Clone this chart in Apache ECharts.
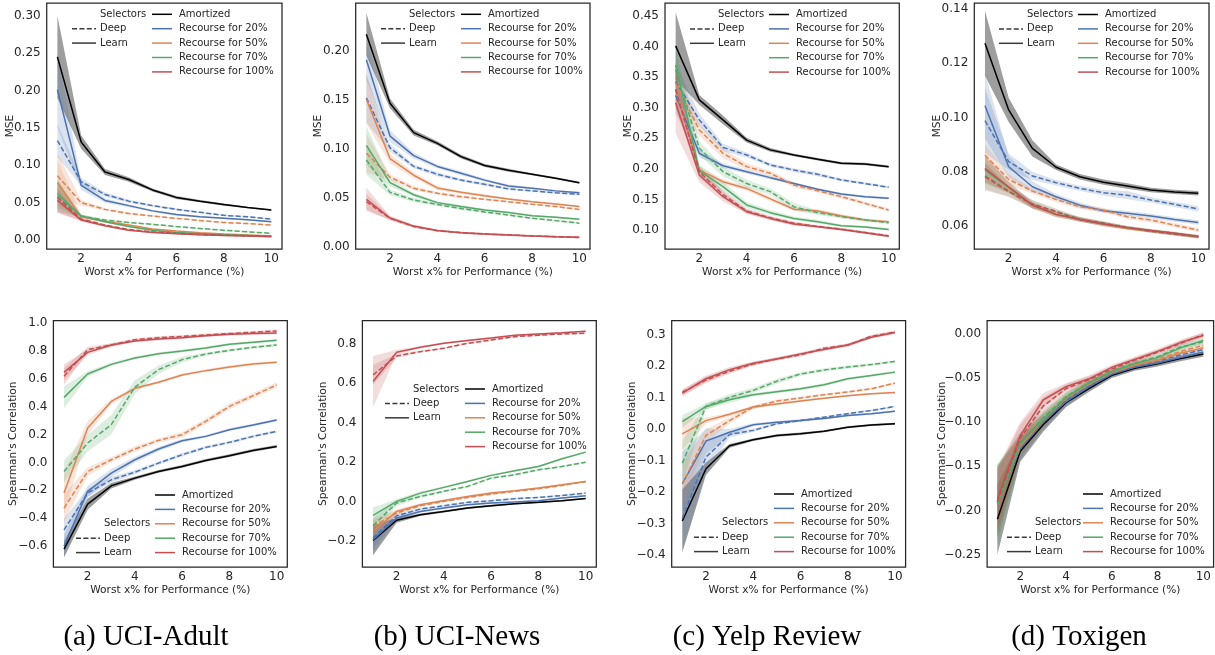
<!DOCTYPE html>
<html>
<head>
<meta charset="utf-8">
<script src="https://cdn.jsdelivr.net/npm/echarts@6/dist/echarts.min.js"></script>
<style>
  html, body { margin: 0; padding: 0; background: #fff; }
  #chart { width: 1215px; height: 655px; }
</style>
</head>
<body>
<div id="chart"></div>
<script>
// ---- data ----
const XS = [1, 2, 3, 4, 5, 6, 7, 8, 9, 10];
const X_TICKS = [2, 4, 6, 8, 10];
const HUES = ['Amortized', 'Recourse for 20%', 'Recourse for 50%', 'Recourse for 70%', 'Recourse for 100%'];
const SELECTORS = ['Selectors', 'Deep', 'Learn'];
const CAPTIONS = ['(a) UCI-Adult', '(b) UCI-News', '(c) Yelp Review', '(d) Toxigen'];

const MSE_TICKS_ADULT = [0, 0.05, 0.1, 0.15, 0.2, 0.25, 0.3];
const MSE_TICKS_NEWS = [0, 0.05, 0.1, 0.15, 0.2];
const MSE_TICKS_YELP = [0.1, 0.15, 0.2, 0.25, 0.3, 0.35, 0.4, 0.45];
const MSE_TICKS_TOX = [0.06, 0.08, 0.1, 0.12, 0.14];
const CORR_TICKS_ADULT = [-0.6, -0.4, -0.2, 0, 0.2, 0.4, 0.6, 0.8, 1.0];
const CORR_TICKS_NEWS = [-0.2, 0, 0.2, 0.4, 0.6, 0.8];
const CORR_TICKS_YELP = [-0.4, -0.3, -0.2, -0.1, 0, 0.1, 0.2, 0.3];
const CORR_TICKS_TOX = [-0.25, -0.2, -0.15, -0.1, -0.05, 0];

// rows of *_LEARN: Amortized, 20%, 50%, 70%, 100%; rows of *_DEEP: 20%, 50%, 70%, 100%
const ADULT_MSE_LEARN = [
  [0.245, 0.131, 0.091, 0.081, 0.067, 0.057, 0.052, 0.0475, 0.0435, 0.040],
  [0.201, 0.073, 0.053, 0.046, 0.039, 0.034, 0.031, 0.029, 0.027, 0.0245],
  [0.077, 0.031, 0.025, 0.020, 0.0147, 0.012, 0.0098, 0.008, 0.0067, 0.0055],
  [0.062, 0.032, 0.0245, 0.018, 0.013, 0.010, 0.0085, 0.007, 0.006, 0.005],
  [0.053, 0.0267, 0.019, 0.013, 0.010, 0.0085, 0.007, 0.006, 0.0053, 0.0044]
];
const ADULT_MSE_DEEP = [
  [0.133, 0.078, 0.061, 0.052, 0.046, 0.041, 0.037, 0.033, 0.031, 0.028],
  [0.086, 0.050, 0.041, 0.0355, 0.032, 0.029, 0.026, 0.0235, 0.022, 0.020],
  [0.058, 0.032, 0.0267, 0.0235, 0.021, 0.018, 0.0155, 0.013, 0.011, 0.009],
  [0.057, 0.028, 0.020, 0.014, 0.011, 0.009, 0.0075, 0.0065, 0.0058, 0.005]
];
const ADULT_MSE_LEARN_CI = [
  [0.055, 0.009, 0.004, 0.003, 0.002, 0.002, 0.0015, 0.0015, 0.001, 0.001],
  [0.05, 0.006, 0.003, 0.002, 0.0015, 0.0015, 0.001, 0.001, 0.001, 0.001],
  [0.03, 0.003, 0.002, 0.0015, 0.001, 0.001, 0.001, 0.001, 0.001, 0.001],
  [0.02, 0.002, 0.0015, 0.001, 0.001, 0.001, 0.001, 0.001, 0.001, 0.001],
  [0.017, 0.002, 0.0015, 0.001, 0.001, 0.001, 0.001, 0.001, 0.001, 0.001]
];
const ADULT_MSE_DEEP_CI = [
  [0.022, 0.005, 0.003, 0.002, 0.0015, 0.0015, 0.001, 0.001, 0.001, 0.001],
  [0.03, 0.004, 0.002, 0.0015, 0.001, 0.001, 0.001, 0.001, 0.001, 0.001],
  [0.02, 0.002, 0.0015, 0.001, 0.001, 0.001, 0.001, 0.001, 0.001, 0.001],
  [0.02, 0.002, 0.0015, 0.001, 0.001, 0.001, 0.001, 0.001, 0.001, 0.001]
];

const NEWS_MSE_LEARN = [
  [0.217, 0.1465, 0.1165, 0.1056, 0.092, 0.083, 0.078, 0.074, 0.070, 0.0654],
  [0.191, 0.113, 0.093, 0.082, 0.075, 0.068, 0.062, 0.0596, 0.057, 0.055],
  [0.1506, 0.090, 0.073, 0.060, 0.0555, 0.052, 0.0487, 0.046, 0.0436, 0.041],
  [0.1036, 0.0654, 0.053, 0.045, 0.041, 0.0375, 0.0348, 0.0317, 0.030, 0.028],
  [0.0484, 0.0293, 0.021, 0.0164, 0.0143, 0.013, 0.012, 0.011, 0.0102, 0.0095]
];
const NEWS_MSE_DEEP = [
  [0.152, 0.101, 0.082, 0.074, 0.068, 0.0637, 0.059, 0.057, 0.055, 0.0535],
  [0.0954, 0.071, 0.0596, 0.0545, 0.051, 0.0484, 0.046, 0.0433, 0.041, 0.038],
  [0.0886, 0.0555, 0.0477, 0.043, 0.039, 0.0354, 0.0324, 0.029, 0.0266, 0.024],
  [0.046, 0.029, 0.0205, 0.0163, 0.0143, 0.013, 0.012, 0.011, 0.0101, 0.0094]
];
const NEWS_MSE_LEARN_CI = [
  [0.022, 0.005, 0.003, 0.002, 0.002, 0.0015, 0.0015, 0.001, 0.001, 0.001],
  [0.02, 0.006, 0.003, 0.002, 0.002, 0.0015, 0.0015, 0.001, 0.001, 0.001],
  [0.025, 0.005, 0.003, 0.002, 0.0015, 0.0015, 0.001, 0.001, 0.001, 0.001],
  [0.02, 0.004, 0.002, 0.0015, 0.0015, 0.001, 0.001, 0.001, 0.001, 0.001],
  [0.012, 0.002, 0.0015, 0.001, 0.001, 0.001, 0.001, 0.001, 0.001, 0.001]
];
const NEWS_MSE_DEEP_CI = [
  [0.025, 0.004, 0.002, 0.002, 0.0015, 0.0015, 0.001, 0.001, 0.001, 0.001],
  [0.02, 0.003, 0.002, 0.0015, 0.0015, 0.001, 0.001, 0.001, 0.001, 0.001],
  [0.015, 0.003, 0.002, 0.0015, 0.0015, 0.001, 0.001, 0.001, 0.001, 0.001],
  [0.008, 0.002, 0.0015, 0.001, 0.001, 0.001, 0.001, 0.001, 0.001, 0.001]
];

const YELP_MSE_LEARN = [
  [0.401, 0.3127, 0.280, 0.247, 0.231, 0.2227, 0.2156, 0.209, 0.208, 0.2036],
  [0.320, 0.2254, 0.205, 0.1954, 0.1856, 0.176, 0.1665, 0.159, 0.1545, 0.152],
  [0.329, 0.198, 0.179, 0.168, 0.151, 0.134, 0.131, 0.123, 0.1164, 0.1136],
  [0.370, 0.197, 0.171, 0.141, 0.1284, 0.119, 0.1136, 0.107, 0.105, 0.101],
  [0.308, 0.190, 0.1545, 0.130, 0.119, 0.110, 0.1055, 0.101, 0.0956, 0.090]
];
const YELP_MSE_DEEP = [
  [0.343, 0.280, 0.235, 0.2227, 0.2063, 0.198, 0.191, 0.1818, 0.176, 0.170],
  [0.340, 0.2636, 0.2254, 0.2036, 0.1927, 0.1736, 0.1643, 0.1545, 0.1436, 0.1327],
  [0.362, 0.2336, 0.1954, 0.176, 0.1627, 0.138, 0.1284, 0.122, 0.1164, 0.112],
  [0.330, 0.195, 0.158, 0.131, 0.120, 0.111, 0.106, 0.1015, 0.096, 0.0905]
];
const YELP_MSE_LEARN_CI = [
  [0.055, 0.008, 0.007, 0.004, 0.003, 0.002, 0.002, 0.002, 0.002, 0.002],
  [0.03, 0.006, 0.004, 0.003, 0.003, 0.002, 0.002, 0.002, 0.002, 0.002],
  [0.03, 0.005, 0.004, 0.004, 0.004, 0.003, 0.003, 0.003, 0.002, 0.002],
  [0.03, 0.01, 0.008, 0.005, 0.004, 0.003, 0.003, 0.002, 0.002, 0.002],
  [0.05, 0.012, 0.008, 0.004, 0.003, 0.003, 0.002, 0.002, 0.002, 0.002]
];
const YELP_MSE_DEEP_CI = [
  [0.03, 0.01, 0.006, 0.004, 0.003, 0.003, 0.003, 0.002, 0.002, 0.002],
  [0.03, 0.01, 0.008, 0.005, 0.004, 0.004, 0.003, 0.003, 0.003, 0.003],
  [0.03, 0.012, 0.008, 0.006, 0.005, 0.006, 0.004, 0.003, 0.003, 0.002],
  [0.03, 0.01, 0.006, 0.004, 0.003, 0.003, 0.002, 0.002, 0.002, 0.002]
];

const TOX_MSE_LEARN = [
  [0.1274, 0.1028, 0.0886, 0.0816, 0.0781, 0.0761, 0.0747, 0.0732, 0.0725, 0.0720],
  [0.1043, 0.0818, 0.0744, 0.0707, 0.0676, 0.0655, 0.0646, 0.0636, 0.0623, 0.0612],
  [0.0810, 0.0740, 0.0675, 0.0640, 0.0625, 0.0605, 0.0590, 0.0580, 0.0570, 0.0558],
  [0.0805, 0.0742, 0.0676, 0.0642, 0.0623, 0.0606, 0.0593, 0.0582, 0.0572, 0.0560],
  [0.0812, 0.0744, 0.0676, 0.0642, 0.0623, 0.0606, 0.0593, 0.0582, 0.0572, 0.0560]
];
const TOX_MSE_DEEP = [
  [0.0988, 0.0837, 0.0784, 0.0759, 0.0738, 0.0722, 0.0713, 0.0695, 0.0679, 0.0662],
  [0.0861, 0.0771, 0.0728, 0.0697, 0.0670, 0.0658, 0.0633, 0.0621, 0.0602, 0.0584],
  [0.0785, 0.0728, 0.0680, 0.0653, 0.0624, 0.0609, 0.0593, 0.0580, 0.0569, 0.0560],
  [0.0781, 0.0726, 0.0680, 0.0652, 0.0623, 0.0609, 0.0593, 0.0580, 0.0569, 0.0560]
];
const TOX_MSE_LEARN_CI = [
  [0.012, 0.0045, 0.003, 0.001, 0.001, 0.001, 0.001, 0.0008, 0.0008, 0.0008],
  [0.012, 0.004, 0.002, 0.001, 0.001, 0.0008, 0.0008, 0.0008, 0.0008, 0.0008],
  [0.005, 0.002, 0.001, 0.001, 0.0008, 0.0008, 0.0006, 0.0006, 0.0006, 0.0006],
  [0.005, 0.002, 0.0012, 0.001, 0.0008, 0.0008, 0.0006, 0.0006, 0.0006, 0.0006],
  [0.005, 0.002, 0.0012, 0.001, 0.0008, 0.0008, 0.0006, 0.0006, 0.0006, 0.0006]
];
const TOX_MSE_DEEP_CI = [
  [0.012, 0.003, 0.0015, 0.001, 0.001, 0.001, 0.0015, 0.001, 0.001, 0.001],
  [0.004, 0.002, 0.001, 0.001, 0.0008, 0.0008, 0.0008, 0.0008, 0.0008, 0.0008],
  [0.005, 0.002, 0.0015, 0.001, 0.0008, 0.0008, 0.0006, 0.0006, 0.0006, 0.0006],
  [0.005, 0.002, 0.0015, 0.001, 0.0008, 0.0008, 0.0006, 0.0006, 0.0006, 0.0006]
];

const ADULT_CORR_LEARN = [
  [-0.623, -0.300, -0.168, -0.113, -0.065, -0.029, 0.014, 0.048, 0.086, 0.115],
  [-0.600, -0.208, -0.077, 0.019, 0.096, 0.156, 0.187, 0.235, 0.268, 0.304],
  [-0.220, 0.247, 0.438, 0.532, 0.575, 0.628, 0.659, 0.685, 0.707, 0.719],
  [0.467, 0.635, 0.704, 0.750, 0.781, 0.800, 0.822, 0.848, 0.862, 0.877],
  [0.647, 0.790, 0.843, 0.872, 0.886, 0.896, 0.910, 0.920, 0.925, 0.929]
];
const ADULT_CORR_DEEP = [
  [-0.484, -0.220, -0.125, -0.070, -0.005, 0.055, 0.108, 0.144, 0.187, 0.223],
  [-0.328, -0.065, 0.019, 0.096, 0.158, 0.199, 0.295, 0.402, 0.479, 0.556],
  [-0.065, 0.139, 0.271, 0.541, 0.666, 0.738, 0.778, 0.805, 0.826, 0.843],
  [0.618, 0.810, 0.843, 0.881, 0.896, 0.905, 0.915, 0.925, 0.934, 0.944]
];
const ADULT_CORR_LEARN_CI = [
  [0.06, 0.04, 0.02, 0.012, 0.01, 0.01, 0.01, 0.01, 0.01, 0.01],
  [0.08, 0.04, 0.03, 0.02, 0.015, 0.012, 0.01, 0.01, 0.01, 0.01],
  [0.15, 0.05, 0.02, 0.012, 0.01, 0.01, 0.01, 0.01, 0.01, 0.01],
  [0.08, 0.02, 0.012, 0.01, 0.01, 0.01, 0.01, 0.01, 0.01, 0.01],
  [0.06, 0.02, 0.012, 0.01, 0.01, 0.01, 0.01, 0.01, 0.01, 0.01]
];
const ADULT_CORR_DEEP_CI = [
  [0.08, 0.03, 0.02, 0.015, 0.012, 0.012, 0.01, 0.01, 0.01, 0.01],
  [0.1, 0.03, 0.02, 0.02, 0.015, 0.02, 0.02, 0.02, 0.02, 0.02],
  [0.08, 0.06, 0.07, 0.05, 0.03, 0.02, 0.012, 0.01, 0.01, 0.01],
  [0.06, 0.02, 0.012, 0.01, 0.01, 0.01, 0.01, 0.01, 0.01, 0.01]
];

const NEWS_CORR_LEARN = [
  [-0.198, -0.096, -0.068, -0.051, -0.034, -0.022, -0.012, -0.005, 0.003, 0.015],
  [-0.194, -0.084, -0.051, -0.034, -0.017, -0.008, -0.003, 0.003, 0.017, 0.029],
  [-0.152, -0.051, -0.017, 0.005, 0.025, 0.042, 0.054, 0.068, 0.084, 0.101],
  [-0.071, 0.000, 0.042, 0.071, 0.101, 0.132, 0.155, 0.177, 0.216, 0.250],
  [0.608, 0.757, 0.782, 0.802, 0.816, 0.829, 0.843, 0.850, 0.856, 0.863]
];
const NEWS_CORR_DEEP = [
  [-0.186, -0.073, -0.039, -0.022, -0.005, 0.003, 0.014, 0.020, 0.030, 0.042],
  [-0.127, -0.059, -0.022, 0.000, 0.020, 0.037, 0.051, 0.064, 0.081, 0.101],
  [-0.123, -0.008, 0.025, 0.051, 0.076, 0.118, 0.135, 0.160, 0.177, 0.199],
  [0.642, 0.738, 0.760, 0.777, 0.802, 0.819, 0.836, 0.843, 0.850, 0.853]
];
const NEWS_CORR_LEARN_CI = [
  [0.075, 0.012, 0.006, 0.005, 0.005, 0.005, 0.004, 0.004, 0.004, 0.004],
  [0.06, 0.012, 0.006, 0.005, 0.005, 0.005, 0.004, 0.004, 0.004, 0.004],
  [0.05, 0.012, 0.006, 0.005, 0.005, 0.005, 0.004, 0.004, 0.004, 0.004],
  [0.04, 0.012, 0.008, 0.006, 0.005, 0.005, 0.005, 0.005, 0.005, 0.005],
  [0.13, 0.012, 0.006, 0.005, 0.005, 0.005, 0.004, 0.004, 0.004, 0.004]
];
const NEWS_CORR_DEEP_CI = [
  [0.05, 0.01, 0.006, 0.005, 0.005, 0.005, 0.004, 0.004, 0.004, 0.004],
  [0.04, 0.01, 0.006, 0.005, 0.005, 0.005, 0.004, 0.004, 0.004, 0.004],
  [0.04, 0.015, 0.008, 0.006, 0.005, 0.005, 0.005, 0.005, 0.005, 0.005],
  [0.05, 0.01, 0.006, 0.005, 0.005, 0.005, 0.004, 0.004, 0.004, 0.004]
];

const YELP_CORR_LEARN = [
  [-0.292, -0.126, -0.053, -0.034, -0.020, -0.015, -0.007, 0.006, 0.013, 0.017],
  [-0.173, -0.038, -0.010, 0.014, 0.022, 0.027, 0.034, 0.043, 0.049, 0.057],
  [-0.015, 0.027, 0.047, 0.070, 0.080, 0.089, 0.098, 0.106, 0.112, 0.116],
  [0.024, 0.072, 0.093, 0.109, 0.119, 0.128, 0.141, 0.160, 0.170, 0.181],
  [0.114, 0.160, 0.189, 0.209, 0.223, 0.239, 0.253, 0.267, 0.292, 0.307]
];
const YELP_CORR_DEEP = [
  [-0.284, -0.089, -0.017, -0.004, 0.017, 0.027, 0.038, 0.049, 0.059, 0.072],
  [-0.175, -0.020, 0.027, 0.070, 0.089, 0.099, 0.109, 0.118, 0.128, 0.146],
  [-0.108, 0.072, 0.101, 0.123, 0.152, 0.175, 0.188, 0.197, 0.205, 0.215],
  [0.117, 0.156, 0.184, 0.207, 0.223, 0.236, 0.257, 0.267, 0.295, 0.308]
];
const YELP_CORR_LEARN_CI = [
  [0.1, 0.02, 0.006, 0.004, 0.004, 0.004, 0.003, 0.003, 0.003, 0.003],
  [0.1, 0.04, 0.01, 0.005, 0.004, 0.004, 0.003, 0.003, 0.003, 0.003],
  [0.05, 0.01, 0.006, 0.005, 0.004, 0.004, 0.003, 0.003, 0.003, 0.003],
  [0.02, 0.01, 0.01, 0.005, 0.005, 0.005, 0.005, 0.004, 0.004, 0.004],
  [0.01, 0.01, 0.008, 0.006, 0.005, 0.005, 0.005, 0.005, 0.005, 0.005]
];
const YELP_CORR_DEEP_CI = [
  [0.1, 0.05, 0.01, 0.005, 0.004, 0.004, 0.003, 0.003, 0.003, 0.003],
  [0.07, 0.02, 0.01, 0.006, 0.005, 0.004, 0.004, 0.004, 0.004, 0.004],
  [0.07, 0.01, 0.01, 0.008, 0.008, 0.006, 0.005, 0.005, 0.004, 0.004],
  [0.01, 0.01, 0.008, 0.006, 0.005, 0.005, 0.005, 0.005, 0.005, 0.005]
];

const TOX_CORR_LEARN = [
  [-0.210, -0.133, -0.103, -0.078, -0.062, -0.047, -0.039, -0.034, -0.028, -0.023],
  [-0.190, -0.130, -0.100, -0.077, -0.060, -0.046, -0.038, -0.033, -0.027, -0.021],
  [-0.190, -0.127, -0.098, -0.073, -0.057, -0.044, -0.036, -0.030, -0.022, -0.016],
  [-0.192, -0.124, -0.098, -0.072, -0.056, -0.043, -0.034, -0.027, -0.016, -0.0075],
  [-0.187, -0.115, -0.075, -0.060, -0.051, -0.038, -0.029, -0.020, -0.010, -0.002]
];
const TOX_CORR_DEEP = [
  [-0.190, -0.128, -0.099, -0.075, -0.058, -0.045, -0.037, -0.031, -0.024, -0.018],
  [-0.190, -0.127, -0.098, -0.072, -0.057, -0.044, -0.035, -0.029, -0.020, -0.013],
  [-0.193, -0.125, -0.095, -0.071, -0.055, -0.042, -0.033, -0.026, -0.015, -0.009],
  [-0.190, -0.118, -0.082, -0.062, -0.052, -0.040, -0.030, -0.021, -0.011, -0.001]
];
const TOX_CORR_LEARN_CI = [
  [0.04, 0.012, 0.008, 0.005, 0.004, 0.003, 0.003, 0.003, 0.003, 0.003],
  [0.04, 0.012, 0.008, 0.005, 0.004, 0.003, 0.003, 0.003, 0.003, 0.003],
  [0.04, 0.012, 0.008, 0.005, 0.004, 0.003, 0.003, 0.003, 0.003, 0.003],
  [0.045, 0.012, 0.008, 0.005, 0.004, 0.003, 0.003, 0.003, 0.003, 0.003],
  [0.035, 0.015, 0.008, 0.004, 0.004, 0.003, 0.003, 0.003, 0.003, 0.003]
];
const TOX_CORR_DEEP_CI = [
  [0.04, 0.012, 0.008, 0.005, 0.004, 0.003, 0.003, 0.003, 0.003, 0.003],
  [0.04, 0.012, 0.008, 0.005, 0.004, 0.003, 0.003, 0.003, 0.003, 0.003],
  [0.045, 0.012, 0.008, 0.005, 0.004, 0.003, 0.003, 0.003, 0.003, 0.003],
  [0.035, 0.015, 0.01, 0.005, 0.004, 0.003, 0.003, 0.003, 0.003, 0.003]
];

// ---- styling / layout ----
const PALETTE = ['#000000', '#4C72B0', '#DD8452', '#55A868', '#C44E52'];
const BAND_ALPHA = [0.38, 0.2, 0.2, 0.2, 0.2];
const TXT = '#262626';
const FONT = 'DejaVu Sans';
const DASH = [5, 2.4];

var panels = [
  { learn: ADULT_MSE_LEARN, deep: ADULT_MSE_DEEP, learnCi: ADULT_MSE_LEARN_CI, deepCi: ADULT_MSE_DEEP_CI,
    yName: 'MSE', ticks: MSE_TICKS_ADULT, dec: 2, min: -0.012, max: 0.317,
    grid: [46.7, 3, 235.3, 246], gap: 31, leg: [72, 152, 14.3, 0] },
  { learn: NEWS_MSE_LEARN, deep: NEWS_MSE_DEEP, learnCi: NEWS_MSE_LEARN_CI, deepCi: NEWS_MSE_DEEP_CI,
    yName: 'MSE', ticks: MSE_TICKS_NEWS, dec: 2, min: -0.0024, max: 0.249,
    grid: [355.7, 3, 234.3, 246], gap: 32, leg: [381, 461, 14.3, 0] },
  { learn: YELP_MSE_LEARN, deep: YELP_MSE_DEEP, learnCi: YELP_MSE_LEARN_CI, deepCi: YELP_MSE_DEEP_CI,
    yName: 'MSE', ticks: MSE_TICKS_YELP, dec: 2, min: 0.069, max: 0.471,
    grid: [665, 3, 234.3, 246], gap: 31.5, leg: [690, 769, 14.5, 0] },
  { learn: TOX_MSE_LEARN, deep: TOX_MSE_DEEP, learnCi: TOX_MSE_LEARN_CI, deepCi: TOX_MSE_DEEP_CI,
    yName: 'MSE', ticks: MSE_TICKS_TOX, dec: 2, min: 0.0514, max: 0.1423,
    grid: [974.3, 3, 234.7, 246], gap: 32, leg: [999, 1078, 14.5, 0] },
  { learn: ADULT_CORR_LEARN, deep: ADULT_CORR_DEEP, learnCi: ADULT_CORR_LEARN_CI, deepCi: ADULT_CORR_DEEP_CI,
    yName: "Spearman's Correlation", ticks: CORR_TICKS_ADULT, dec: 1, min: -0.751, max: 1.019,
    grid: [53.4, 320.5, 233.9, 246.5], gap: 34.5, leg: [76, 155, 495, 2] },
  { learn: NEWS_CORR_LEARN, deep: NEWS_CORR_DEEP, learnCi: NEWS_CORR_LEARN_CI, deepCi: NEWS_CORR_DEEP_CI,
    yName: "Spearman's Correlation", ticks: CORR_TICKS_NEWS, dec: 1, min: -0.333, max: 0.918,
    grid: [362.4, 320.5, 233.9, 246.5], gap: 33.5, leg: [385, 465, 389, 0] },
  { learn: YELP_CORR_LEARN, deep: YELP_CORR_DEEP, learnCi: YELP_CORR_LEARN_CI, deepCi: YELP_CORR_DEEP_CI,
    yName: "Spearman's Correlation", ticks: CORR_TICKS_YELP, dec: 1, min: -0.438, max: 0.345,
    grid: [671.7, 320.5, 233.9, 246.5], gap: 33.5, leg: [694, 774, 494, 2] },
  { learn: TOX_CORR_LEARN, deep: TOX_CORR_DEEP, learnCi: TOX_CORR_LEARN_CI, deepCi: TOX_CORR_DEEP_CI,
    yName: "Spearman's Correlation", ticks: CORR_TICKS_TOX, dec: 2, min: -0.264, max: 0.015,
    grid: [987.1, 320.5, 226.5, 246.5], gap: 39, leg: [1007, 1083, 494, 2] }
];
const CAPTION_X = [146, 457, 767, 1079];

function rgba(hex, a) {
  var n = parseInt(hex.slice(1), 16);
  return 'rgba(' + (n >> 16) + ',' + ((n >> 8) & 255) + ',' + (n & 255) + ',' + a + ')';
}
function fmt(dec) {
  return function (v) { return v.toFixed(dec).replace('-', '\u2212'); };
}
function pairs(arr) { return arr.map(function (v, i) { return [XS[i], v]; }); }

// one polygon for the whole confidence band, built from every data item via api.coord
function bandRenderer(fill) {
  return function (params, api) {
    if (params.dataIndexInside !== 0) return null;
    var n = params.dataInsideLength, lower = [], upper = [];
    for (var i = 0; i < n; i++) {
      lower.push(api.coord([api.value(0, i), api.value(1, i)]));
      upper.push(api.coord([api.value(0, i), api.value(2, i)]));
    }
    return { type: 'polygon', shape: { points: lower.concat(upper.reverse()) },
      style: { fill: fill, stroke: null } };
  };
}

var grids = [], xAxes = [], yAxes = [], series = [], graphics = [];

panels.forEach(function (p, k) {
  grids.push({ left: p.grid[0], top: p.grid[1], width: p.grid[2], height: p.grid[3],
    show: true, borderColor: TXT, borderWidth: 1.25, backgroundColor: 'transparent' });
  xAxes.push({ type: 'value', gridIndex: k, min: 0.55, max: 10.45,
    axisLine: { show: false }, axisTick: { show: false }, splitLine: { show: false },
    axisLabel: { customValues: X_TICKS, color: TXT, fontFamily: FONT, fontSize: 12, margin: 4 },
    name: 'Worst x% for Performance (%)', nameLocation: 'middle', nameGap: 18, nameMoveOverlap: false,
    nameTextStyle: { color: TXT, fontFamily: FONT, fontSize: 10.6 } });
  yAxes.push({ type: 'value', gridIndex: k, min: p.min, max: p.max,
    axisLine: { show: false }, axisTick: { show: false }, splitLine: { show: false },
    axisLabel: { customValues: p.ticks, formatter: fmt(p.dec), color: TXT, fontFamily: FONT, fontSize: 12, margin: 6 },
    name: p.yName, nameLocation: 'middle', nameRotate: 90, nameGap: p.gap, nameMoveOverlap: false,
    nameTextStyle: { color: TXT, fontFamily: FONT, fontSize: 10.6 } });

  // every curve: hue index, mean, ci half width, dashed?
  var curves = [];
  p.learn.forEach(function (m, h) {
    if (h > 0) curves.push({ hue: h, m: p.deep[h - 1], ci: p.deepCi[h - 1], dash: true });
    curves.push({ hue: h, m: m, ci: p.learnCi[h], dash: false });
  });

  curves.forEach(function (c) {
    var band = c.m.map(function (v, i) { return [XS[i], v - c.ci[i], v + c.ci[i]]; });
    series.push({ type: 'custom', xAxisIndex: k, yAxisIndex: k, data: band, clip: true, silent: true, z: 1,
      encode: { x: 0, y: [1, 2] }, renderItem: bandRenderer(rgba(PALETTE[c.hue], BAND_ALPHA[c.hue])) });
  });
  curves.forEach(function (c) {
    series.push({ type: 'line', name: HUES[c.hue], xAxisIndex: k, yAxisIndex: k, data: pairs(c.m),
      symbol: 'none', silent: true, z: 3,
      lineStyle: { color: PALETTE[c.hue], width: 1.5, type: c.dash ? DASH : 'solid' } });
  });

  // legend drawn as graphics, two columns like the seaborn one
  var L = p.leg, dy = 14.4;
  SELECTORS.forEach(function (s, r) {
    var y = L[2] + (L[3] + r) * dy;
    if (r > 0) graphics.push({ type: 'line', z: 100, shape: { x1: L[0], y1: y, x2: L[0] + 24, y2: y },
      style: { stroke: '#3a3a3a', lineWidth: 1.5, lineDash: r === 1 ? DASH : null } });
    graphics.push({ type: 'text', z: 100, x: L[0] + 28, y: y,
      style: { text: s, fill: TXT, font: '10px "DejaVu Sans"', verticalAlign: 'middle' } });
  });
  HUES.forEach(function (s, r) {
    var y = L[2] + r * dy;
    graphics.push({ type: 'line', z: 100, shape: { x1: L[1], y1: y, x2: L[1] + 20, y2: y },
      style: { stroke: PALETTE[r], lineWidth: 1.5 } });
    graphics.push({ type: 'text', z: 100, x: L[1] + 27, y: y,
      style: { text: s, fill: TXT, font: '10px "DejaVu Sans"', verticalAlign: 'middle' } });
  });
});

CAPTIONS.forEach(function (t, i) {
  graphics.push({ type: 'text', z: 100, x: CAPTION_X[i], y: 637,
    style: { text: t, fill: '#000', font: '29px "Liberation Serif"', align: 'center', verticalAlign: 'middle' } });
});

var chart = echarts.init(document.getElementById('chart'), null, { renderer: 'canvas' });
chart.setOption({
  animation: false,
  backgroundColor: '#fff',
  grid: grids,
  xAxis: xAxes,
  yAxis: yAxes,
  series: series,
  graphic: graphics
});
</script>
</body>
</html>
